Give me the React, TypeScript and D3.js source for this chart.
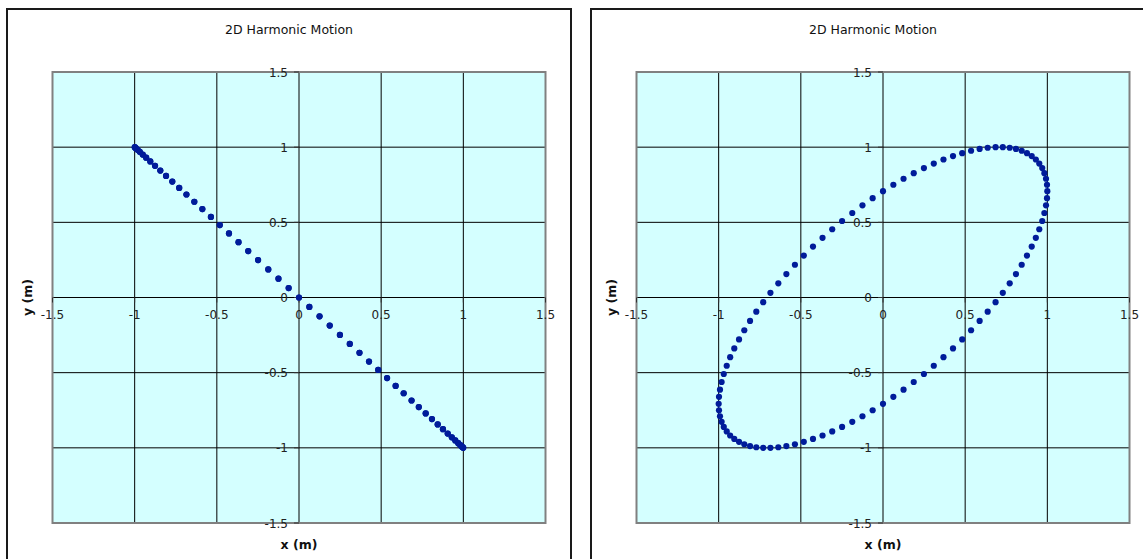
import React from "react";
import * as d3 from "d3";

// ---- data ----
const xValues = [
  1, 0.998, 0.992, 0.982, 0.969, 0.951, 0.93, 0.905, 0.876, 0.844, 0.809, 0.771, 0.729, 0.685, 0.637, 0.588, 0.536, 0.482, 0.426, 0.368, 0.309, 0.249, 0.187, 0.125, 0.063, 0,
  -0.063, -0.125, -0.187, -0.249, -0.309, -0.368, -0.426, -0.482, -0.536, -0.588, -0.637, -0.685, -0.729, -0.771, -0.809, -0.844, -0.876, -0.905, -0.93, -0.951, -0.969, -0.982, -0.992, -0.998, -1,
  -0.998, -0.992, -0.982, -0.969, -0.951, -0.93, -0.905, -0.876, -0.844, -0.809, -0.771, -0.729, -0.685, -0.637, -0.588, -0.536, -0.482, -0.426, -0.368, -0.309, -0.249, -0.187, -0.125, -0.063, 0,
  0.063, 0.125, 0.187, 0.249, 0.309, 0.368, 0.426, 0.482, 0.536, 0.588, 0.637, 0.685, 0.729, 0.771, 0.809, 0.844, 0.876, 0.905, 0.93, 0.951, 0.969, 0.982, 0.992, 0.998,
];

const leftY = [
  -1, -0.998, -0.992, -0.982, -0.969, -0.951, -0.93, -0.905, -0.876, -0.844, -0.809, -0.771, -0.729, -0.685, -0.637, -0.588, -0.536, -0.482, -0.426, -0.368, -0.309, -0.249, -0.187, -0.125, -0.063, 0,
  0.063, 0.125, 0.187, 0.249, 0.309, 0.368, 0.426, 0.482, 0.536, 0.588, 0.637, 0.685, 0.729, 0.771, 0.809, 0.844, 0.876, 0.905, 0.93, 0.951, 0.969, 0.982, 0.992, 0.998, 1,
  0.998, 0.992, 0.982, 0.969, 0.951, 0.93, 0.905, 0.876, 0.844, 0.809, 0.771, 0.729, 0.685, 0.637, 0.588, 0.536, 0.482, 0.426, 0.368, 0.309, 0.249, 0.187, 0.125, 0.063, 0,
  -0.063, -0.125, -0.187, -0.249, -0.309, -0.368, -0.426, -0.482, -0.536, -0.588, -0.637, -0.685, -0.729, -0.771, -0.809, -0.844, -0.876, -0.905, -0.93, -0.951, -0.969, -0.982, -0.992, -0.998,
];

const rightY = [
  0.707, 0.75, 0.79, 0.827, 0.861, 0.891, 0.918, 0.941, 0.96, 0.976, 0.988, 0.996, 1, 1, 0.996, 0.988, 0.976, 0.96, 0.941, 0.918, 0.891, 0.861, 0.827, 0.79, 0.75,
  0.707, 0.661, 0.613, 0.562, 0.509, 0.454, 0.397, 0.339, 0.279, 0.218, 0.156, 0.094, 0.031, -0.031, -0.094, -0.156, -0.218, -0.279, -0.339, -0.397, -0.454, -0.509, -0.562, -0.613, -0.661,
  -0.707, -0.75, -0.79, -0.827, -0.861, -0.891, -0.918, -0.941, -0.96, -0.976, -0.988, -0.996, -1, -1, -0.996, -0.988, -0.976, -0.96, -0.941, -0.918, -0.891, -0.861, -0.827, -0.79, -0.75,
  -0.707, -0.661, -0.613, -0.562, -0.509, -0.454, -0.397, -0.339, -0.279, -0.218, -0.156, -0.094, -0.031, 0.031, 0.094, 0.156, 0.218, 0.279, 0.339, 0.397, 0.454, 0.509, 0.562, 0.613, 0.661,
];

const tickValues = [-1.5, -1, -0.5, 0, 0.5, 1, 1.5];
const tickLabels = ["-1.5", "-1", "-0.5", "0", "0.5", "1", "1.5"];
const chartTitle = "2D Harmonic Motion";
const xTitle = "x (m)";
const yTitle = "y (m)";

const FONT = "'DejaVu Sans', Verdana, sans-serif";

type PanelProps = {
  frameX: number;
  frameW: number;
  plotX0: number;
  plotX1: number;
  xs: number[];
  ys: number[];
};

const PLOT_Y0 = 72;
const PLOT_Y1 = 523;

function Panel({ frameX, frameW, plotX0, plotX1, xs, ys }: PanelProps) {
  const x = d3.scaleLinear().domain([-1.5, 1.5]).range([plotX0, plotX1]);
  const y = d3.scaleLinear().domain([-1.5, 1.5]).range([PLOT_Y1, PLOT_Y0]);
  const x0 = x(0);
  const y0 = y(0);
  const cx = (plotX0 + plotX1) / 2;
  return (
    <g>
      <rect x={frameX} y={9} width={frameW} height={570} fill="#fff" stroke="#1a1a1a" strokeWidth={2} />
      <text x={frameX + frameW / 2} y={34} textAnchor="middle" fontFamily={FONT} fontSize={12.5} fill="#111">
        {chartTitle}
      </text>
      <rect x={plotX0} y={PLOT_Y0} width={plotX1 - plotX0} height={PLOT_Y1 - PLOT_Y0} fill="#d4ffff" />
      {tickValues.slice(1, -1).map((v) => (
        <line key={"gx" + v} x1={x(v)} x2={x(v)} y1={PLOT_Y0} y2={PLOT_Y1} stroke="#000" strokeWidth={1} />
      ))}
      {tickValues.slice(1, -1).map((v) => (
        <line key={"gy" + v} x1={plotX0} x2={plotX1} y1={y(v)} y2={y(v)} stroke="#000" strokeWidth={1} />
      ))}
      <rect x={plotX0} y={PLOT_Y0} width={plotX1 - plotX0} height={PLOT_Y1 - PLOT_Y0} fill="none" stroke="#808080" strokeWidth={2} />
      {tickValues.map((v) => (
        <line key={"ty" + v} x1={x0 - 5} x2={x0} y1={y(v)} y2={y(v)} stroke="#333" strokeWidth={1} />
      ))}
      {tickValues.map((v) => (
        <line key={"tx" + v} x1={x(v)} x2={x(v)} y1={y0} y2={y0 + 5} stroke="#333" strokeWidth={1} />
      ))}
      {tickValues.map((v, i) => (
        <text key={"ly" + v} x={x0 - 11} y={y(v) + 4.5} textAnchor="end" fontFamily={FONT} fontSize={12} fill="#222">
          {tickLabels[i]}
        </text>
      ))}
      {tickValues.map((v, i) => (
        <text key={"lx" + v} x={x(v)} y={y0 + 21} textAnchor="middle" fontFamily={FONT} fontSize={12} fill="#222">
          {tickLabels[i]}
        </text>
      ))}
      <text x={cx} y={549} textAnchor="middle" fontFamily={FONT} fontSize={12.5} fontWeight="bold" fill="#111">
        {xTitle}
      </text>
      <text
        transform={`translate(${frameX + 25},${(PLOT_Y0 + PLOT_Y1) / 2}) rotate(-90)`}
        textAnchor="middle"
        fontFamily={FONT}
        fontSize={12.5}
        fontWeight="bold"
        fill="#111"
      >
        {yTitle}
      </text>
      {xs.map((v, i) => (
        <circle key={"p" + i} cx={x(v)} cy={y(ys[i])} r={3.1} fill="#001c9a" />
      ))}
    </g>
  );
}

export default function App() {
  return (
    <div style={{ position: "absolute", left: 0, top: 0 }}>
      <svg width={1143} height={559} style={{ display: "block" }}>
        <rect x={0} y={0} width={1143} height={559} fill="#fff" />
        <Panel frameX={7} frameW={564} plotX0={52.5} plotX1={545.5} xs={xValues} ys={leftY} />
        <Panel frameX={591} frameW={564} plotX0={636.5} plotX1={1129.5} xs={xValues} ys={rightY} />
      </svg>
    </div>
  );
}
